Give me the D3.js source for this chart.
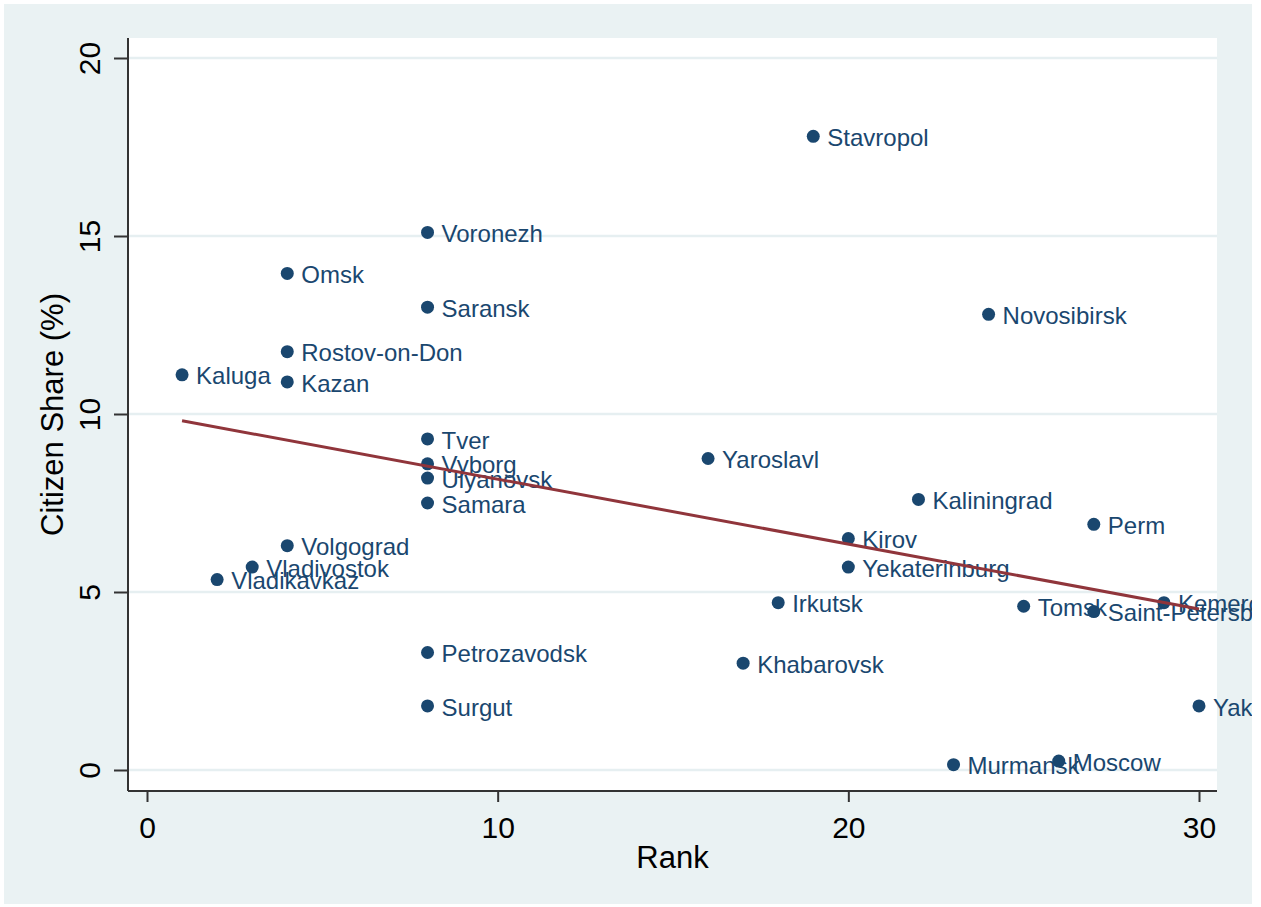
<!DOCTYPE html>
<html>
<head>
<meta charset="utf-8">
<script src="https://cdn.jsdelivr.net/npm/d3@7"></script>
<style>
  html, body { margin: 0; padding: 0; background: #ffffff; }
  svg { display: block; font-family: "Liberation Sans", Arial, sans-serif; }
</style>
</head>
<body>
<svg id="chart" width="1261" height="907"></svg>
<script>
// City names, their rank and citizen share (%)
const cities = ["Kaluga", "Vladikavkaz", "Vladivostok", "Omsk", "Rostov-on-Don", "Kazan", "Volgograd",
  "Voronezh", "Saransk", "Tver", "Vyborg", "Ulyanovsk", "Samara", "Petrozavodsk", "Surgut",
  "Yaroslavl", "Khabarovsk", "Irkutsk", "Stavropol", "Kirov", "Yekaterinburg", "Kaliningrad",
  "Murmansk", "Novosibirsk", "Tomsk", "Moscow", "Perm", "Saint-Petersburg", "Kemerovo", "Yakutsk"];
const ranks = [1, 2, 3, 4, 4, 4, 4,
  8, 8, 8, 8, 8, 8, 8, 8,
  16, 17, 18, 19, 20, 20, 22,
  23, 24, 25, 26, 27, 27, 29, 30];
const shares = [11.1, 5.35, 5.7, 13.95, 11.75, 10.9, 6.3,
  15.1, 13.0, 9.3, 8.6, 8.2, 7.5, 3.3, 1.8,
  8.75, 3.0, 4.7, 17.8, 6.5, 5.7, 7.6,
  0.15, 12.8, 4.6, 0.25, 6.9, 4.45, 4.7, 1.8];
const xTicks = [0, 10, 20, 30];
const yTicks = [0, 5, 10, 15, 20];

const svg = d3.select("#chart");
const navy = "#1a476f";

// Clip everything to the graph region
svg.append("clipPath").attr("id", "graphClip")
  .append("rect").attr("x", 4).attr("y", 4).attr("width", 1248).attr("height", 900);

const root = svg.append("g").attr("clip-path", "url(#graphClip)");

root.append("rect").attr("x", 4).attr("y", 4).attr("width", 1248).attr("height", 900)
  .attr("fill", "#eaf2f3");

const plot = { left: 128, right: 1217, top: 38, bottom: 791 };

root.append("rect")
  .attr("x", plot.left).attr("y", plot.top)
  .attr("width", plot.right - plot.left).attr("height", plot.bottom - plot.top)
  .attr("fill", "#ffffff");

const x = d3.scaleLinear().domain([0, 30]).range([147, 1199]);
const y = d3.scaleLinear().domain([0, 20]).range([770, 58]);

// Horizontal grid lines
root.append("g").selectAll("line").data(yTicks).join("line")
  .attr("x1", plot.left).attr("x2", plot.right)
  .attr("y1", d => y(d)).attr("y2", d => y(d))
  .attr("stroke", "#e6eff1").attr("stroke-width", 2.5);

// Y axis
const yAxis = root.append("g").attr("transform", `translate(${plot.left},0)`)
  .call(d3.axisLeft(y).tickValues(yTicks).tickSize(14).tickPadding(0).tickFormat(d3.format("d")));
yAxis.select(".domain").attr("d", `M0,${plot.top}V${plot.bottom}`)
  .attr("stroke", "#333").attr("stroke-width", 2);
yAxis.selectAll(".tick line").attr("stroke", "#333").attr("stroke-width", 2);
yAxis.selectAll(".tick text")
  .attr("x", null).attr("dy", null)
  .attr("transform", "translate(-28,0) rotate(-90)")
  .attr("text-anchor", "middle")
  .attr("font-size", 30).attr("fill", "#000")
  .attr("font-family", "'Liberation Sans', Arial, sans-serif");

// X axis
const xAxis = root.append("g").attr("transform", `translate(0,${plot.bottom})`)
  .call(d3.axisBottom(x).tickValues(xTicks).tickSize(11).tickPadding(0).tickFormat(d3.format("d")));
xAxis.select(".domain").attr("d", `M${plot.left},0H${plot.right}`)
  .attr("stroke", "#333").attr("stroke-width", 2);
xAxis.selectAll(".tick line").attr("stroke", "#333").attr("stroke-width", 2);
xAxis.selectAll(".tick text")
  .attr("y", 47).attr("dy", null)
  .attr("font-size", 30).attr("fill", "#000")
  .attr("font-family", "'Liberation Sans', Arial, sans-serif");

// Axis titles
root.append("text")
  .attr("x", (plot.left + plot.right) / 2).attr("y", 868)
  .attr("text-anchor", "middle").attr("font-size", 31).attr("fill", "#000")
  .text("Rank");
root.append("text")
  .attr("transform", `translate(63,${(plot.top + plot.bottom) / 2}) rotate(-90)`)
  .attr("text-anchor", "middle").attr("font-size", 31).attr("fill", "#000")
  .text("Citizen Share (%)");

// Points with city labels
const pts = cities.map((c, i) => ({ city: c, rank: ranks[i], share: shares[i] }));
const marks = root.append("g");
marks.selectAll("circle").data(pts).join("circle")
  .attr("cx", d => x(d.rank)).attr("cy", d => y(d.share))
  .attr("r", 6.5).attr("fill", navy);
marks.selectAll("text").data(pts).join("text")
  .attr("x", d => x(d.rank) + 14).attr("y", d => y(d.share))
  .attr("dy", "0.4em")
  .attr("font-size", 24).attr("fill", navy)
  .text(d => d.city);

// Least-squares linear fit over the observed ranks
const mx = d3.mean(ranks), my = d3.mean(shares);
const sxy = d3.sum(ranks, (r, i) => (r - mx) * (shares[i] - my));
const sxx = d3.sum(ranks, r => (r - mx) * (r - mx));
const slope = sxy / sxx, intercept = my - slope * mx;
const [r0, r1] = d3.extent(ranks);
root.append("path")
  .datum([r0, r1])
  .attr("d", d3.line().x(r => x(r)).y(r => y(intercept + slope * r)))
  .attr("stroke", "#90353b").attr("stroke-width", 3).attr("fill", "none");
</script>
</body>
</html>
